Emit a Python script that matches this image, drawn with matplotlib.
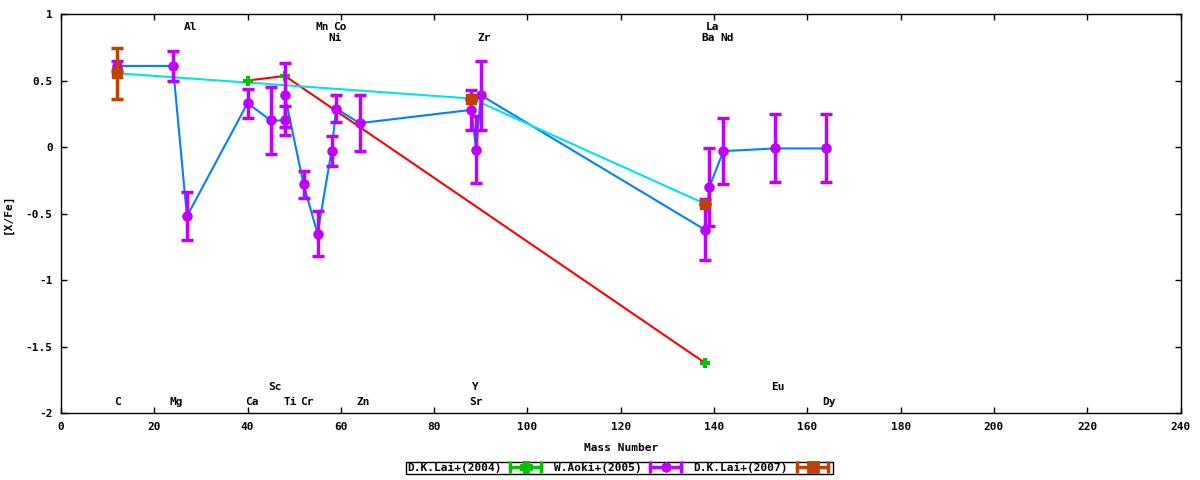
import matplotlib
matplotlib.use('Agg')
import matplotlib.pyplot as plt
from matplotlib.lines import Line2D
from matplotlib.legend_handler import HandlerLine2D, HandlerTuple

plt.rcParams['font.family'] = ['DejaVu Sans Mono']
plt.rcParams['axes.unicode_minus'] = False

# D.K.Lai+(2004)
lai04_x = [40, 48, 138]
lai04_y = [0.50, 0.535, -1.62]
lai04_err = [0.0, 0.0, 0.0]

# W.Aoki+(2005)
aoki_x = [12, 24, 27, 40, 45, 48, 48, 52, 55, 58, 59, 64, 88, 89, 90, 138, 139, 142, 153, 164]
aoki_y = [0.61, 0.61, -0.52, 0.33, 0.20, 0.20, 0.39, -0.28, -0.65, -0.03, 0.29, 0.18,
          0.28, -0.02, 0.39, -0.62, -0.30, -0.03, -0.01, -0.01]
aoki_err = [0.04, 0.11, 0.18, 0.11, 0.25, 0.11, 0.24, 0.10, 0.17, 0.11, 0.10, 0.21,
            0.15, 0.25, 0.26, 0.23, 0.29, 0.25, 0.255, 0.255]

# D.K.Lai+(2007)
lai07_x = [12, 88, 138]
lai07_y = [0.555, 0.365, -0.425]
lai07_err = [0.19, 0.0, 0.0]

# element labels
elem_names = ['Al', 'Mn', 'Co', 'Ni', 'Zr', 'La', 'Ba', 'Nd',
              'C', 'Mg', 'Ca', 'Sc', 'Ti', 'Cr', 'Zn', 'Y', 'Sr', 'Eu', 'Dy']
elem_x = [27.8, 56.1, 59.8, 58.8, 90.7, 139.7, 138.8, 142.7,
          12.1, 24.8, 40.9, 45.8, 49.1, 52.7, 64.8, 88.9, 89.0, 153.6, 164.7]
elem_y = [0.905, 0.905, 0.905, 0.817, 0.817, 0.905, 0.817, 0.817,
          -1.915, -1.915, -1.915, -1.805, -1.915, -1.915, -1.915, -1.805, -1.915, -1.805, -1.915]

c_green = '#00c000'
c_purple = '#c000ff'
c_brown = '#c04000'

fig = plt.figure(figsize=(12, 4.8), dpi=100)
ax = fig.add_axes([0.0508, 0.139, 0.9330, 0.8318])

# connecting lines
ax.plot(lai04_x, lai04_y, color='#ff0000', lw=1.5, zorder=2)
ax.plot(aoki_x, aoki_y, color='#0080ff', lw=1.5, zorder=2)
ax.plot(lai07_x, lai07_y, color='#00e4e4', lw=1.5, zorder=2)

# error bars
ax.errorbar(lai04_x, lai04_y, yerr=lai04_err, fmt='P', color=c_green, ms=7.5, mew=0,
            elinewidth=2.5, capsize=4, capthick=2.5, zorder=3)
ax.errorbar(aoki_x, aoki_y, yerr=aoki_err, fmt='none', ecolor=c_purple,
            elinewidth=2.5, capsize=4, capthick=2.5, zorder=4)
ax.plot(aoki_x, aoki_y, ls='none', marker=(8, 2, 0), color=c_purple, ms=7, mew=2.5, zorder=4)
ax.errorbar(lai07_x, lai07_y, yerr=lai07_err, fmt='s', color=c_brown, ms=7.5,
            elinewidth=2.5, capsize=4, capthick=2.5, zorder=5)

for name, x, y in zip(elem_names, elem_x, elem_y):
    ax.text(x, y, name, ha='center', va='center', fontsize=8, fontweight='bold')

ax.set_xlim(0, 240)
ax.set_ylim(-2, 1)
ax.set_xticks(range(0, 241, 20))
ax.set_yticks([-2, -1.5, -1, -0.5, 0, 0.5, 1])
ax.set_yticklabels(['-2', '-1.5', '-1', '-0.5', '0', '0.5', '1'])
ax.tick_params(direction='in', length=4, width=1, top=True, right=True, labelsize=8, pad=6)
for lab in ax.get_xticklabels() + ax.get_yticklabels():
    lab.set_fontweight('bold')
for s in ax.spines.values():
    s.set_linewidth(1)

ax.set_xlabel('Mass Number', fontsize=8, fontweight='bold', labelpad=8)
ax.set_ylabel('[X/Fe]', fontsize=8, fontweight='bold')
ax.yaxis.set_label_coords(-0.043, 0.5)


def legend_handle(color, marker, ms):
    caps = Line2D([], [], color=color, lw=2.5, marker='|', ms=9, mew=2.5)
    mid = Line2D([], [], color=color, lw=0, marker=marker, ms=ms, mew=2)
    return caps, mid


hmap = {tuple: HandlerTuple(ndivide=1)}
handles = []
for col, mk, ms in [(c_green, 'P', 7.5), (c_purple, (8, 2, 0), 7), (c_brown, 's', 7.5)]:
    caps, mid = legend_handle(col, mk, ms)
    hmap[caps] = HandlerLine2D(numpoints=2)
    hmap[mid] = HandlerLine2D(numpoints=1)
    handles.append((caps, mid))

leg = fig.legend(handles, ['D.K.Lai+(2004)', 'W.Aoki+(2005)', 'D.K.Lai+(2007)'],
                 handler_map=hmap, loc='center', bbox_to_anchor=(0.516, 0.025), ncol=3,
                 markerfirst=False, fancybox=False, edgecolor='black', framealpha=1,
                 borderpad=0.1, handlelength=3.4, handletextpad=0.5, columnspacing=0.8,
                 prop={'family': 'DejaVu Sans Mono', 'weight': 'bold', 'size': 8})
leg.get_frame().set_linewidth(1)

fig.savefig('out.png', dpi=100)
